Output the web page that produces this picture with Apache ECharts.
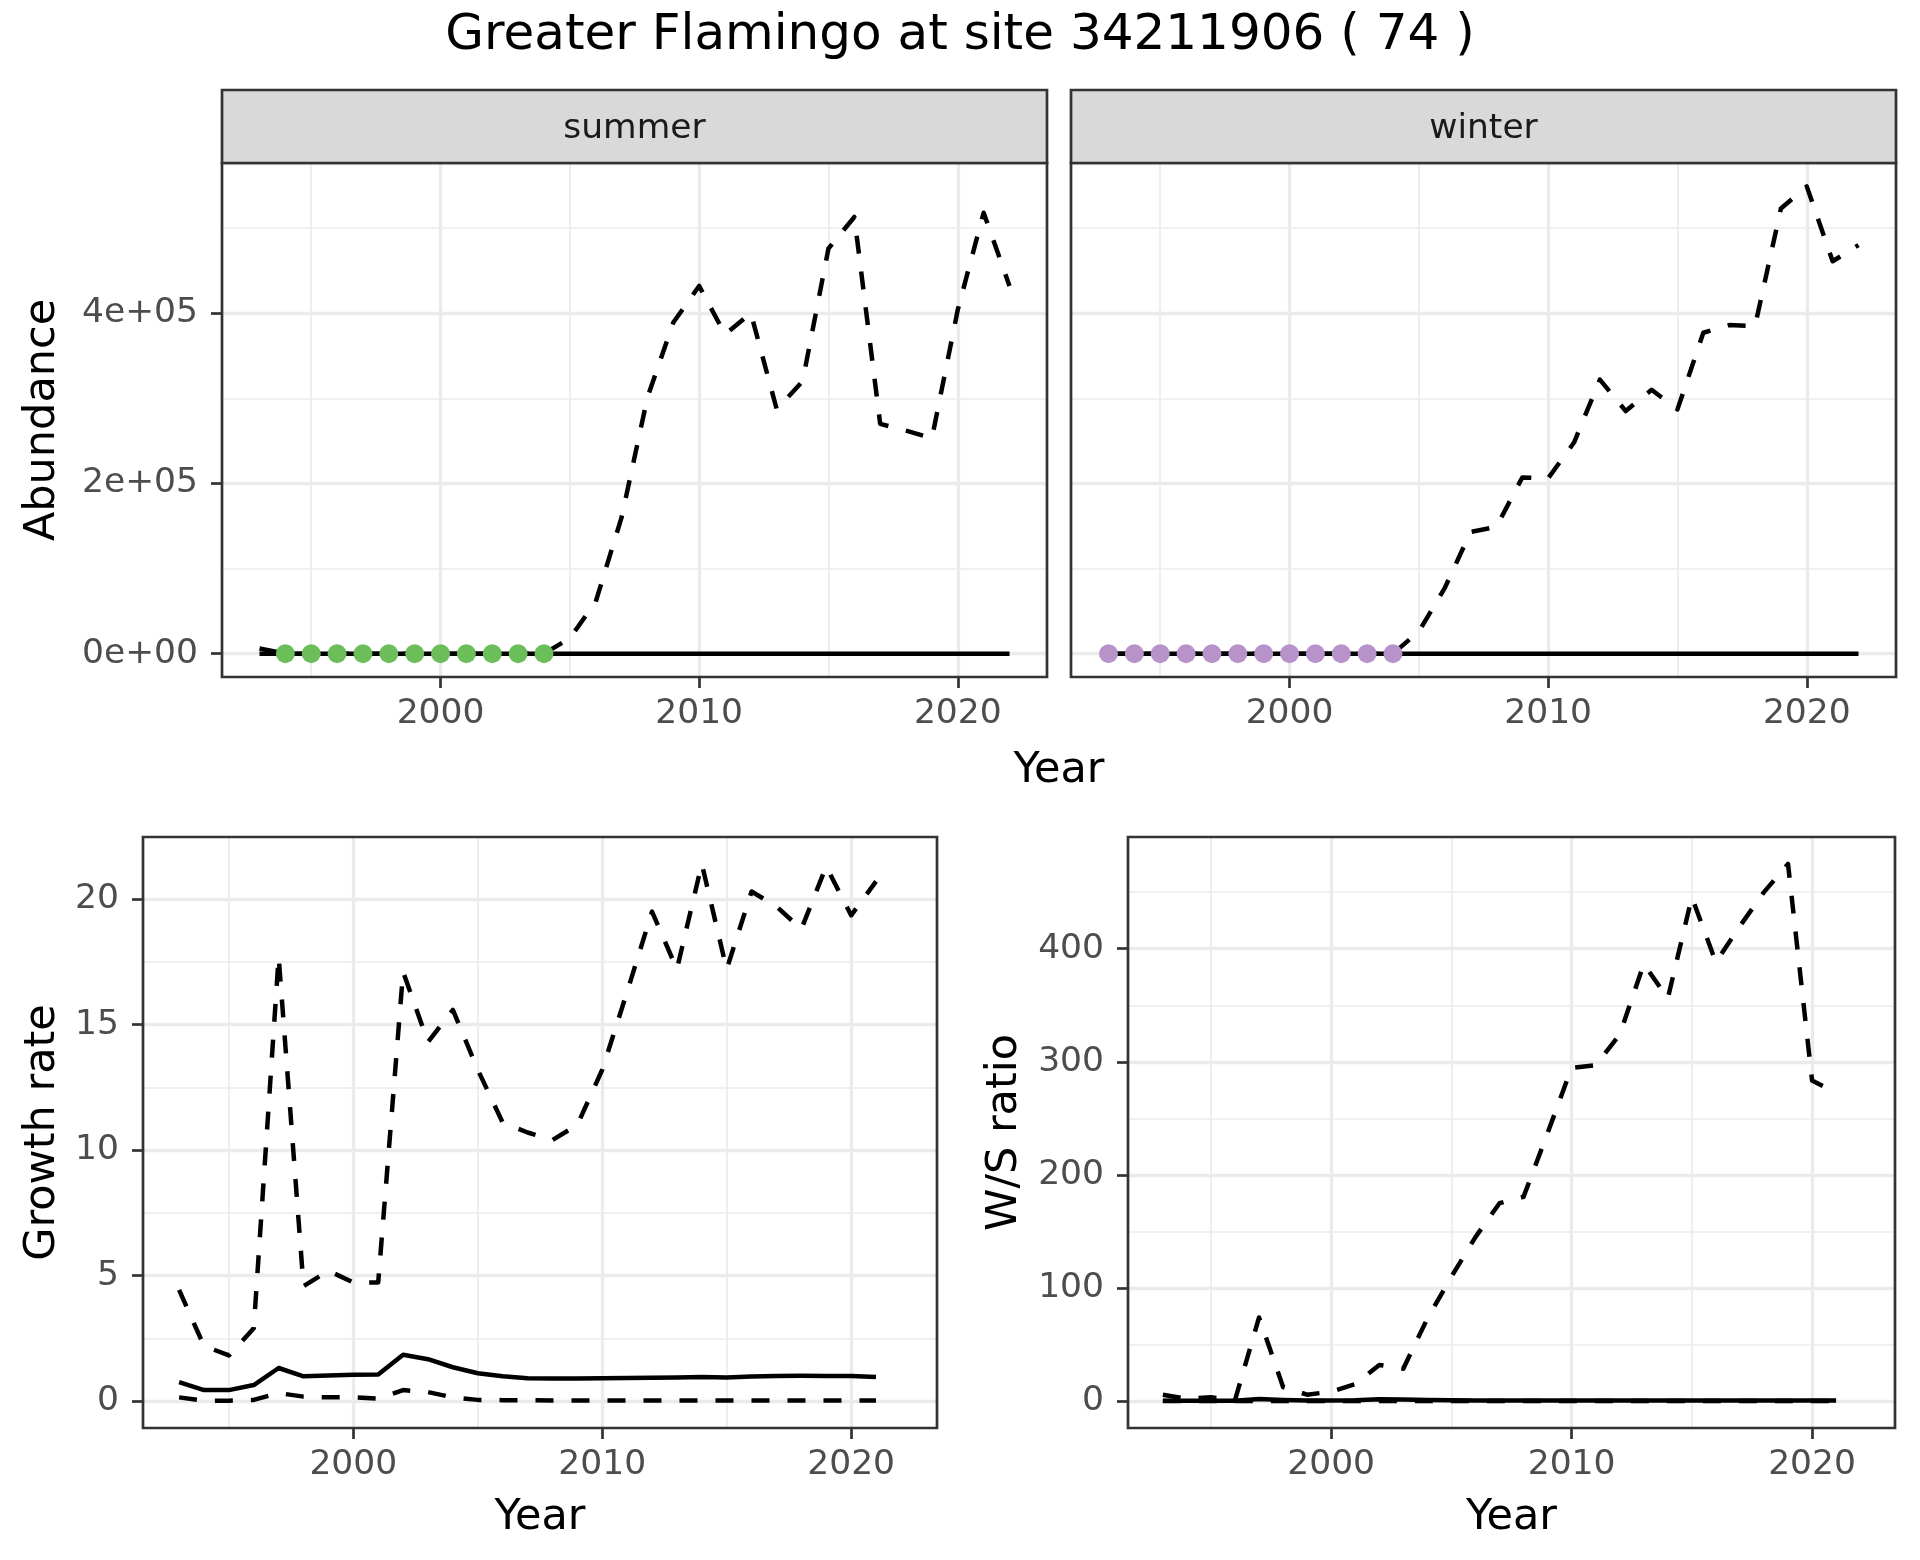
<!DOCTYPE html>
<html>
<head>
<meta charset="utf-8">
<script src="https://cdn.jsdelivr.net/npm/echarts@6/dist/echarts.min.js"></script>
<style>
html,body{margin:0;padding:0;background:#ffffff;}
#chart{width:1920px;height:1560px;}
</style>
</head>
<body>
<div id="chart"></div>
<script>
// ---------------- data ----------------
const yearsTop = [1993,1994,1995,1996,1997,1998,1999,2000,2001,2002,2003,2004,2005,2006,2007,2008,2009,2010,2011,2012,2013,2014,2015,2016,2017,2018,2019,2020,2021,2022];
const summerUpper = [6000,0,0,0,0,0,0,0,0,0,0,0,18000,61000,160000,301000,389000,432000,375000,400000,287000,320000,476000,513000,270000,262000,253000,404000,518000,432000];
const summerTrend = [0,0,0,0,0,0,0,0,0,0,0,0,0,0,0,0,0,0,0,0,0,0,0,0,0,0,0,0,0,0];
const winterUpper = [0,0,0,0,0,0,0,0,0,0,0,0,26000,77000,143000,149000,207000,206000,248000,322000,285000,310000,287000,377000,386000,385000,523000,549000,461000,480000];
const winterTrend = [0,0,0,0,0,0,0,0,0,0,0,0,0,0,0,0,0,0,0,0,0,0,0,0,0,0,0,0,0,0];
const summerCountYears = [1994,1995,1996,1997,1998,1999,2000,2001,2002,2003,2004];
const summerCounts = [0,0,0,0,0,0,0,0,0,0,0];
const winterCountYears = [1993,1994,1995,1996,1997,1998,1999,2000,2001,2002,2003,2004];
const winterCounts = [0,0,0,0,0,0,0,0,0,0,0,0];

const yearsBottom = [1993,1994,1995,1996,1997,1998,1999,2000,2001,2002,2003,2004,2005,2006,2007,2008,2009,2010,2011,2012,2013,2014,2015,2016,2017,2018,2019,2020,2021];
const growthUpper = [4.43,2.2,1.82,2.9,17.7,4.58,5.19,4.73,4.73,17.1,14.3,15.58,13.2,11.1,10.7,10.4,11.0,13.2,16.3,19.5,17.2,21.4,17.2,20.3,19.7,18.8,21.3,19.35,20.7];
const growthTrend = [0.76,0.44,0.44,0.64,1.32,0.99,1.02,1.05,1.06,1.85,1.67,1.35,1.11,0.99,0.91,0.9,0.9,0.91,0.92,0.93,0.94,0.96,0.94,0.98,1.0,1.01,1.0,1.0,0.96];
const growthLower = [0.15,0.02,0.02,0.05,0.32,0.18,0.15,0.15,0.1,0.44,0.36,0.15,0.05,0.04,0.04,0.03,0.03,0.03,0.03,0.03,0.03,0.03,0.03,0.03,0.03,0.03,0.03,0.03,0.03];
const ratioUpper = [5.7,2,3.4,1,74,12.5,5.7,8.4,15,32,28.7,73,110,145,175,180.6,237,294.7,297,324,386.5,356,445.6,388,420,450,475,283.5,272.4];
const ratioTrend = [0.4,0.3,0.3,0.4,1.8,1.0,0.5,0.6,0.8,1.6,1.4,1.0,0.7,0.6,0.5,0.5,0.5,0.5,0.5,0.5,0.5,0.5,0.5,0.5,0.5,0.5,0.5,0.5,0.5];
const ratioLower = [0.1,0.05,0.05,0.05,0.2,0.1,0.05,0.05,0.05,0.1,0.1,0.05,0.05,0.05,0.05,0.05,0.05,0.05,0.05,0.05,0.05,0.05,0.05,0.05,0.05,0.05,0.05,0.05,0.05];

// ticks
const yearTicks = [2000,2010,2020];
const yearMinor = [1995,2005,2015];
const abundanceTicks = [0,200000,400000];
const abundanceLabels = ['0e+00','2e+05','4e+05'];
const abundanceMinor = [100000,300000,500000];
const growthTicks = [0,5,10,15,20];
const growthMinor = [2.5,7.5,12.5,17.5];
const ratioTicks = [0,100,200,300,400];
const ratioMinor = [50,150,250,350,450];

const titleText = 'Greater Flamingo at site 34211906 ( 74 )';
const facetNames = ['summer','winter'];

// ---------------- layout / style ----------------
const FONT = 'DejaVu Sans';
const GRID_COL = '#EBEBEB';
const BORDER_COL = '#333333';
const LABEL_COL = '#4D4D4D';
const LW = 4.5;
const DASH = [18,18];

const panels = [
  {left:222, top:163, width:825, height:514},
  {left:1071, top:163, width:825, height:514},
  {left:143, top:837, width:794, height:591},
  {left:1128, top:837, width:767, height:591}
];

function expand(lo, hi){ const d=(hi-lo)*0.05; return [lo-d, hi+d]; }
const xr = expand(Math.min(...yearsTop), Math.max(...yearsTop));
const topMax = Math.max(...summerUpper, ...winterUpper);
const yrTop = expand(0, topMax);
const yrGrowth = expand(0, Math.max(...growthUpper));
const yrRatio = expand(0, Math.max(...ratioUpper));

function pairs(xs, ys){ return xs.map((x,i)=>[x, ys[i]]); }

function xAxisFor(gi){
  return {
    type:'value', gridIndex:gi, min:xr[0], max:xr[1],
    splitLine:{show:false},
    axisLine:{show:false, onZero:false},
    axisTick:{show:true, customValues:yearTicks, length:11, lineStyle:{color:BORDER_COL, width:2.7}},
    axisLabel:{show:true, customValues:yearTicks, margin:20, color:LABEL_COL, fontSize:34.5, fontFamily:FONT,
      formatter:(v)=>String(v)}
  };
}
function yAxisFor(gi, range, ticks, labels, show){
  return {
    type:'value', gridIndex:gi, min:range[0], max:range[1],
    splitLine:{show:false},
    axisLine:{show:false, onZero:false},
    axisTick:{show:show, customValues:ticks, length:11, lineStyle:{color:BORDER_COL, width:2.7}},
    axisLabel:{show:show, customValues:ticks, margin:24, color:LABEL_COL, fontSize:34.5, fontFamily:FONT,
      formatter:(v)=>{ const i=ticks.indexOf(v); return labels ? (i>=0?labels[i]:'') : String(v); }}
  };
}

function gridSeries(gi, xMaj, xMin, yMaj, yMin){
  const d = [];
  xMin.forEach(v=>d.push({xAxis:v, lineStyle:{color:GRID_COL, width:1.7, type:'solid'}}));
  yMin.forEach(v=>d.push({yAxis:v, lineStyle:{color:GRID_COL, width:1.7, type:'solid'}}));
  xMaj.forEach(v=>d.push({xAxis:v, lineStyle:{color:GRID_COL, width:3.3, type:'solid'}}));
  yMaj.forEach(v=>d.push({yAxis:v, lineStyle:{color:GRID_COL, width:3.3, type:'solid'}}));
  return {
    type:'line', xAxisIndex:gi, yAxisIndex:gi, data:[], z:1, silent:true, symbol:'none',
    markLine:{silent:true, z:1, symbol:['none','none'], label:{show:false}, animation:false, data:d}
  };
}
function lineSeries(gi, xs, ys, dashed){
  return {
    type:'line', xAxisIndex:gi, yAxisIndex:gi, data:pairs(xs, ys), z:3,
    symbol:'none', showSymbol:false, silent:true,
    lineStyle:{color:'#000000', width:LW, type:dashed?DASH:'solid', join:'round', cap:'butt'}
  };
}
function pointSeries(gi, xs, ys, color){
  return {
    type:'scatter', xAxisIndex:gi, yAxisIndex:gi, data:pairs(xs, ys), z:4,
    symbol:'circle', symbolSize:19, silent:true, itemStyle:{color:color, opacity:1}
  };
}

const graphics = [];
// title
graphics.push({type:'text', x:960, y:36, style:{text:titleText, font:'50px "DejaVu Sans"', fill:'#000000', align:'center', verticalAlign:'middle'}});
// strips
[0,1].forEach(i=>{
  const p = panels[i];
  graphics.push({type:'rect', shape:{x:p.left, y:90, width:p.width, height:p.top-90},
    style:{fill:'#D9D9D9', stroke:BORDER_COL, lineWidth:2.7}, z:10});
  graphics.push({type:'text', x:p.left+p.width/2, y:129, z:11,
    style:{text:facetNames[i], font:'34.5px "DejaVu Sans"', fill:'#1A1A1A', align:'center', verticalAlign:'middle'}});
});
// axis titles
function axisTitle(text, x, y, rot){
  graphics.push({type:'text', x:x, y:y, rotation:rot||0, z:11,
    style:{text:text, font:'43px "DejaVu Sans"', fill:'#000000', align:'center', verticalAlign:'middle'}});
}
axisTitle('Year', (panels[0].left + panels[1].left + panels[1].width)/2, 771);
axisTitle('Abundance', 43, panels[0].top + panels[0].height/2, Math.PI/2);
axisTitle('Year', panels[2].left + panels[2].width/2, 1518);
axisTitle('Year', panels[3].left + panels[3].width/2, 1518);
axisTitle('Growth rate', 43, panels[2].top + panels[2].height/2, Math.PI/2);
axisTitle('W/S ratio', 1005, panels[3].top + panels[3].height/2, Math.PI/2);

const option = {
  animation:false,
  backgroundColor:'#ffffff',
  grid: panels.map(p=>({left:p.left, top:p.top, width:p.width, height:p.height, containLabel:false,
    show:true, borderColor:BORDER_COL, borderWidth:2.7, backgroundColor:'transparent', z:5})),
  xAxis:[xAxisFor(0), xAxisFor(1), xAxisFor(2), xAxisFor(3)],
  yAxis:[
    yAxisFor(0, yrTop, abundanceTicks, abundanceLabels, true),
    yAxisFor(1, yrTop, abundanceTicks, abundanceLabels, false),
    yAxisFor(2, yrGrowth, growthTicks, null, true),
    yAxisFor(3, yrRatio, ratioTicks, null, true)
  ],
  series:[
    gridSeries(0, yearTicks, yearMinor, abundanceTicks, abundanceMinor),
    gridSeries(1, yearTicks, yearMinor, abundanceTicks, abundanceMinor),
    gridSeries(2, yearTicks, yearMinor, growthTicks, growthMinor),
    gridSeries(3, yearTicks, yearMinor, ratioTicks, ratioMinor),
    lineSeries(0, yearsTop, summerUpper, true),
    lineSeries(0, yearsTop, summerTrend, false),
    pointSeries(0, summerCountYears, summerCounts, '#6CBE5A'),
    lineSeries(1, yearsTop, winterUpper, true),
    lineSeries(1, yearsTop, winterTrend, false),
    pointSeries(1, winterCountYears, winterCounts, '#B793C9'),
    lineSeries(2, yearsBottom, growthUpper, true),
    lineSeries(2, yearsBottom, growthLower, true),
    lineSeries(2, yearsBottom, growthTrend, false),
    lineSeries(3, yearsBottom, ratioUpper, true),
    lineSeries(3, yearsBottom, ratioLower, true),
    lineSeries(3, yearsBottom, ratioTrend, false)
  ],
  graphic: graphics
};

const chart = echarts.init(document.getElementById('chart'), null, {renderer:'canvas'});
chart.setOption(option);
</script>
</body>
</html>
